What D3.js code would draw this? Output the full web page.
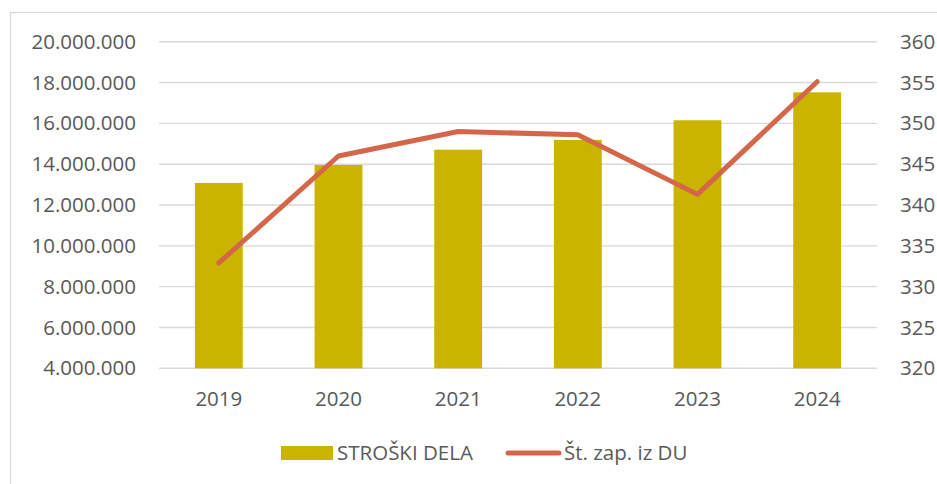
<!DOCTYPE html>
<meta charset="utf-8" />
<title>Stroški dela</title>
<style>
  body { margin: 0; background: #fff; }
  svg text { font-family: "Open Sans", sans-serif; fill: #595959; }
  .grid line { stroke: #d9d9d9; stroke-width: 1.4px; }
</style>
<body>
  <script src="https://d3js.org/d3.v7.min.js"></script>
  <script>
    var years = ["2019", "2020", "2021", "2022", "2023", "2024"];
    var costs = [13080000, 13960000, 14710000, 15190000, 16150000, 17520000];
    var employees = [332.9, 346, 349, 348.6, 341.3, 355.1];
    var leftTicks = [4000000, 6000000, 8000000, 10000000, 12000000, 14000000, 16000000, 18000000, 20000000];
    var rightTicks = [320, 325, 330, 335, 340, 345, 350, 355, 360];
    var seriesNames = ["STROŠKI DELA", "Št. zap. iz DU"];

    var width = 937,
      height = 484,
      plot = { left: 159, right: 877, top: 41.7, bottom: 368.3 };

    var barColor = "#cbb400",
      lineColor = "#d4674a";

    var fmt = d3.formatLocale({ decimal: ",", thousands: ".", grouping: [3], currency: ["", ""] }).format(",d");

    var svg = d3.select("body").append("svg").attr("width", width).attr("height", height);

    // chart frame
    svg.append("rect")
      .attr("x", 10.5).attr("y", 12.5)
      .attr("width", 940).attr("height", 500)
      .attr("fill", "none").attr("stroke", "#d9d9d9").attr("stroke-width", 1.3);

    var x = d3.scaleBand().domain(years).range([plot.left, plot.right])
      .paddingInner(0.6).paddingOuter(0.3);
    var yL = d3.scaleLinear().domain([4000000, 20000000]).range([plot.bottom, plot.top]);
    var yR = d3.scaleLinear().domain([320, 360]).range([plot.bottom, plot.top]);

    // gridlines
    svg.append("g").attr("class", "grid")
      .selectAll("line").data(leftTicks).join("line")
      .attr("x1", plot.left).attr("x2", plot.right)
      .attr("y1", function (d) { return yL(d); })
      .attr("y2", function (d) { return yL(d); });

    // left axis
    var axL = svg.append("g")
      .attr("transform", "translate(" + plot.left + ",0)")
      .call(d3.axisLeft(yL).tickValues(leftTicks).tickFormat(fmt).tickSize(0).tickPadding(23));
    axL.select(".domain").remove();

    // right axis
    var axR = svg.append("g")
      .attr("transform", "translate(" + plot.right + ",0)")
      .call(d3.axisRight(yR).tickValues(rightTicks).tickSize(0).tickPadding(23));
    axR.select(".domain").remove();

    // x axis
    var axX = svg.append("g")
      .attr("transform", "translate(0," + plot.bottom + ")")
      .call(d3.axisBottom(x).tickSize(0).tickPadding(23));
    axX.select(".domain").remove();

    svg.selectAll(".tick text")
      .style("font-family", "'Open Sans', sans-serif")
      .style("font-size", "20.5px")
      .attr("fill", "#595959");

    // bars
    svg.append("g").selectAll("rect").data(costs).join("rect")
      .attr("x", function (d, i) { return x(years[i]); })
      .attr("y", function (d) { return yL(d); })
      .attr("width", x.bandwidth())
      .attr("height", function (d) { return yL(4000000) - yL(d); })
      .attr("fill", barColor);

    // line
    var line = d3.line()
      .x(function (d, i) { return x(years[i]) + x.bandwidth() / 2; })
      .y(function (d) { return yR(d); });

    svg.append("path")
      .datum(employees)
      .attr("d", line)
      .attr("fill", "none")
      .attr("stroke", lineColor)
      .attr("stroke-width", 5)
      .attr("stroke-linejoin", "round")
      .attr("stroke-linecap", "round");

    // legend
    var lg = svg.append("g");
    lg.append("rect")
      .attr("x", 281).attr("y", 446).attr("width", 52).attr("height", 14)
      .attr("fill", barColor);
    lg.append("text")
      .attr("x", 337).attr("y", 453).attr("dy", "0.35em")
      .style("font-size", "20.5px")
      .text(seriesNames[0]);
    lg.append("line")
      .attr("x1", 508).attr("x2", 559).attr("y1", 453).attr("y2", 453)
      .attr("stroke", lineColor).attr("stroke-width", 5).attr("stroke-linecap", "round");
    lg.append("text")
      .attr("x", 564).attr("y", 453).attr("dy", "0.35em")
      .style("font-size", "20.5px")
      .text(seriesNames[1]);
  </script>
</body>
